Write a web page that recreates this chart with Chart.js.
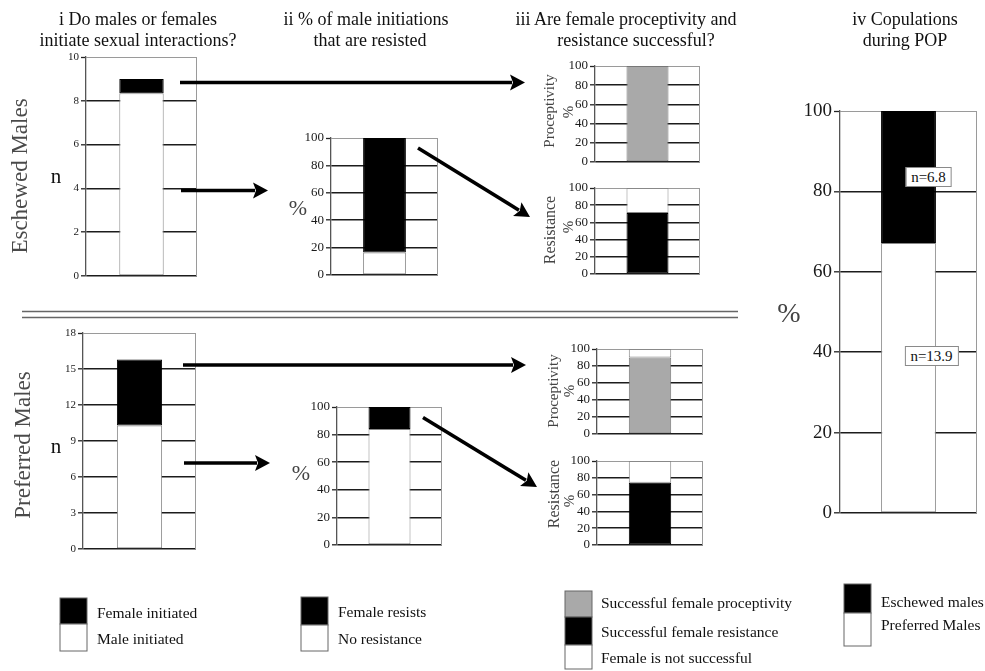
<!DOCTYPE html>
<html>
<head>
<meta charset="utf-8">
<script src="https://cdn.jsdelivr.net/npm/chart.js@4.4.1/dist/chart.umd.min.js"></script>
<style>
  html, body { margin: 0; padding: 0; background: #fff; }
  #fig { position: relative; width: 985px; height: 671px; overflow: hidden;
         font-family: "Liberation Serif", "Times New Roman", serif; }
  #fig canvas { position: absolute; }
  #overlay { position: absolute; left: 0; top: 0; }
  .nlab { position: absolute; background: #fff; border: 1px solid #8a8a8a; color: #111;
          font-size: 15px; line-height: 18px; padding: 0 5px; white-space: nowrap;
          transform: translate(-50%, -50%); }
</style>
</head>
<body>
<div id="fig">
  <canvas id="pI_esc"></canvas>
  <canvas id="pII_esc"></canvas>
  <canvas id="pIIIa_esc"></canvas>
  <canvas id="pIIIb_esc"></canvas>
  <canvas id="pI_pref"></canvas>
  <canvas id="pII_pref"></canvas>
  <canvas id="pIIIa_pref"></canvas>
  <canvas id="pIIIb_pref"></canvas>
  <canvas id="pIV"></canvas>
  <svg id="overlay" width="985" height="671" xmlns="http://www.w3.org/2000/svg"></svg>
</div>
<script>
// ---- data: index 0 = eschewed males, index 1 = preferred males ----
const groups = ['Eschewed Males', 'Preferred Males'];

// i: number of sexual interactions initiated by each sex
const maleInitiated   = [8.35, 10.3];
const femaleInitiated = [0.65, 5.5];

// ii: % of male initiations resisted
const noResistance  = [16.5, 84];
const femaleResists = [83.5, 16];

// iii: % of proceptive / resistant attempts that succeed
const proceptivitySuccess = [100, 90];
const resistanceSuccess   = [71, 74];

// iv: copulations during POP (mean n)
const copulationsN = [6.8, 13.9];

// tick labels
const nTicksEschewed  = [0, 2, 4, 6, 8, 10];
const nTicksPreferred = [0, 3, 6, 9, 12, 15, 18];
const pctTicks        = [0, 20, 40, 60, 80, 100];

// ---- drawing ----
const SERIF = '"Liberation Serif", "Times New Roman", serif';
const BLACK = '#000000', WHITE = '#ffffff', GREY = '#a9a9a9';

// thin grey frame on the right edge of each plot box
const frame = {
  id: 'frame',
  beforeDatasetsDraw(chart) {
    const a = chart.chartArea, c = chart.ctx;
    c.save();
    c.strokeStyle = '#9a9a9a';
    c.lineWidth = 1;
    c.beginPath();
    c.moveTo(Math.round(a.right) - 0.5, a.top);
    c.lineTo(Math.round(a.right) - 0.5, a.bottom);
    c.stroke();
    c.restore();
  }
};

function makePanel(id, box, opt) {
  const padT = 14, padB = 14, padR = 3;
  const cv = document.getElementById(id);
  cv.width = opt.axisW + (box.r - box.l) + padR;
  cv.height = padT + (box.b - box.t) + padB;
  cv.style.left = (box.l - opt.axisW) + 'px';
  cv.style.top = (box.t - padT) + 'px';
  const top = opt.ticks[opt.ticks.length - 1];
  return new Chart(cv, {
    type: 'bar',
    data: {
      labels: [''],
      datasets: opt.datasets.map(d => ({
        data: [d.value > 0 ? d.value : null],
        backgroundColor: d.color,
        borderColor: d.border,
        borderWidth: 1,
        borderSkipped: false,
        barPercentage: 0.4,
        categoryPercentage: 1
      }))
    },
    options: {
      responsive: false,
      animation: false,
      events: [],
      layout: { padding: { left: 0, top: padT, right: padR, bottom: padB } },
      plugins: { legend: { display: false }, tooltip: { enabled: false } },
      scales: {
        x: { display: false, stacked: true },
        y: {
          stacked: true, min: 0, max: top,
          afterBuildTicks: s => { s.ticks = opt.ticks.map(v => ({ value: v })); },
          afterFit: s => { s.width = opt.axisW; },
          ticks: { font: { family: SERIF, size: opt.tickSize }, color: '#1a1a1a',
                   padding: 2, autoSkip: false },
          grid: {
            color: c => (c.tick && c.tick.value === top) ? '#9a9a9a' : '#1c1c1c',
            lineWidth: c => (c.tick && c.tick.value === top) ? 1 : 1.6,
            tickLength: opt.tickLen || 5,
            tickColor: '#222',
            tickWidth: 1.3
          },
          border: { color: '#555', width: 1.3 }
        }
      }
    },
    plugins: [frame]
  });
}

const small = { axisW: 24, tickSize: 11 };
const mid = { axisW: 28, tickSize: 13 };

// Panel i
makePanel('pI_esc', { l: 86, t: 57, r: 197, b: 276 }, Object.assign({}, small, {
  ticks: nTicksEschewed,
  datasets: [
    { value: maleInitiated[0], color: WHITE, border: '#888' },
    { value: femaleInitiated[0], color: BLACK, border: BLACK }
  ]
}));
makePanel('pI_pref', { l: 83, t: 333, r: 196, b: 549 }, Object.assign({}, small, {
  ticks: nTicksPreferred,
  datasets: [
    { value: maleInitiated[1], color: WHITE, border: '#888' },
    { value: femaleInitiated[1], color: BLACK, border: BLACK }
  ]
}));

// Panel ii
makePanel('pII_esc', { l: 331, t: 138, r: 438, b: 275 }, Object.assign({}, mid, {
  ticks: pctTicks,
  datasets: [
    { value: noResistance[0], color: WHITE, border: '#888' },
    { value: femaleResists[0], color: BLACK, border: BLACK }
  ]
}));
makePanel('pII_pref', { l: 337, t: 407, r: 442, b: 545 }, Object.assign({}, mid, {
  ticks: pctTicks,
  datasets: [
    { value: noResistance[1], color: WHITE, border: '#888' },
    { value: femaleResists[1], color: BLACK, border: BLACK }
  ]
}));

// Panel iii
function successPanel(id, box, value, fill) {
  return makePanel(id, box, Object.assign({}, mid, {
    ticks: pctTicks,
    datasets: [
      { value: value, color: fill, border: fill === BLACK ? BLACK : '#777' },
      { value: 100 - value, color: WHITE, border: '#888' }
    ]
  }));
}
successPanel('pIIIa_esc',  { l: 595, t: 66,  r: 700, b: 162 }, proceptivitySuccess[0], GREY);
successPanel('pIIIb_esc',  { l: 595, t: 188, r: 700, b: 274 }, resistanceSuccess[0], BLACK);
successPanel('pIIIa_pref', { l: 597, t: 349, r: 703, b: 434 }, proceptivitySuccess[1], GREY);
successPanel('pIIIb_pref', { l: 597, t: 461, r: 703, b: 545 }, resistanceSuccess[1], BLACK);

// Panel iv: share of copulations, from the mean counts
const nTotal = copulationsN[0] + copulationsN[1];
const pctEschewed = copulationsN[0] / nTotal * 100;
const pctPreferred = copulationsN[1] / nTotal * 100;
const ivBox = { l: 840, t: 111, r: 977, b: 513 };
const ivChart = makePanel('pIV', ivBox, {
  axisW: 46, tickSize: 19, tickLen: 6,
  ticks: pctTicks,
  datasets: [
    { value: pctPreferred, color: WHITE, border: '#888' },
    { value: pctEschewed, color: BLACK, border: BLACK }
  ]
});

// n labels placed on the bars of panel iv
(function () {
  const fig = document.getElementById('fig');
  const cv = document.getElementById('pIV');
  const ox = parseFloat(cv.style.left), oy = parseFloat(cv.style.top);
  const esc = ivChart.getDatasetMeta(1).data[0];
  const pref = ivChart.getDatasetMeta(0).data[0];
  const put = (txt, x, y) => {
    const d = document.createElement('div');
    d.className = 'nlab';
    d.textContent = txt;
    d.style.left = (ox + x) + 'px';
    d.style.top = (oy + y) + 'px';
    fig.appendChild(d);
  };
  put('n=' + copulationsN[0], esc.x + 20, (esc.y + esc.base) / 2);
  put('n=' + copulationsN[1], pref.x + 23, pref.y + 0.42 * (pref.base - pref.y));
})();

// ---- annotations: titles, labels, arrows, legends ----
const svg = document.getElementById('overlay');
const NS = 'http://www.w3.org/2000/svg';
function el(tag, attrs, text) {
  const e = document.createElementNS(NS, tag);
  for (const k in attrs) e.setAttribute(k, attrs[k]);
  if (text !== undefined) e.textContent = text;
  svg.appendChild(e);
  return e;
}
function text(x, y, s, size, opts) {
  opts = opts || {};
  const a = {
    x: x, y: y, 'font-family': SERIF, 'font-size': size,
    fill: opts.fill || '#111', 'text-anchor': opts.anchor || 'middle',
    'dominant-baseline': opts.baseline || 'alphabetic'
  };
  if (opts.rotate) a.transform = 'rotate(-90 ' + x + ' ' + y + ')';
  if (opts.weight) a['font-weight'] = opts.weight;
  a['xml:space'] = 'preserve';
  return el('text', a, s);
}
function arrow(x1, y1, x2, y2) {
  const len = 15, half = 8;
  const dx = x2 - x1, dy = y2 - y1, L = Math.hypot(dx, dy);
  const ux = dx / L, uy = dy / L;
  const bx = x2 - ux * len, by = y2 - uy * len;
  el('line', { x1: x1, y1: y1, x2: bx + ux * 2, y2: by + uy * 2, stroke: '#000', 'stroke-width': 3.6 });
  el('polygon', {
    points: [x2 + ',' + y2,
             (bx - uy * half) + ',' + (by + ux * half),
             (bx + ux * 3) + ',' + (by + uy * 3),
             (bx + uy * half) + ',' + (by - ux * half)].join(' '),
    fill: '#000'
  });
}

// column titles
text(138, 25, 'i  Do males or females', 18);
text(138, 46, 'initiate sexual interactions?', 18);
text(366, 25, 'ii  % of male initiations', 18);
text(370, 46, 'that are resisted', 18);
text(626, 25, 'iii  Are female proceptivity and', 18);
text(636, 46, 'resistance successful?', 18);
text(905, 25, 'iv  Copulations', 18);
text(905, 46, 'during POP', 18);

// row labels
text(19, 176, groups[0], 23, { rotate: true, baseline: 'central', fill: '#4a4a4a' });
text(22, 445, groups[1], 23, { rotate: true, baseline: 'central', fill: '#4a4a4a' });

// axis titles
text(56, 176, 'n', 21, { baseline: 'central' });
text(56, 446, 'n', 21, { baseline: 'central' });
text(298, 207, '%', 22, { baseline: 'central', fill: '#444' });
text(301, 472, '%', 22, { baseline: 'central', fill: '#444' });
text(789, 312, '%', 28, { baseline: 'central', fill: '#444' });
text(549, 111, 'Proceptivity', 15, { rotate: true, baseline: 'central', fill: '#444' });
text(568, 112, '%', 15, { rotate: true, baseline: 'central', fill: '#444' });
text(549, 230, 'Resistance', 16, { rotate: true, baseline: 'central', fill: '#444' });
text(568, 227, '%', 15, { rotate: true, baseline: 'central', fill: '#444' });
text(553, 391, 'Proceptivity', 15, { rotate: true, baseline: 'central', fill: '#444' });
text(569, 391, '%', 15, { rotate: true, baseline: 'central', fill: '#444' });
text(553, 494, 'Resistance', 16, { rotate: true, baseline: 'central', fill: '#444' });
text(569, 501, '%', 15, { rotate: true, baseline: 'central', fill: '#444' });

// double rule between the two rows
el('line', { x1: 22, y1: 311.5, x2: 738, y2: 311.5, stroke: '#666', 'stroke-width': 1.4 });
el('line', { x1: 22, y1: 317.5, x2: 738, y2: 317.5, stroke: '#666', 'stroke-width': 1.4 });

// flow arrows
arrow(180, 82.5, 525, 82.5);
arrow(181, 190.5, 268, 190.5);
arrow(418, 148, 530, 217);
arrow(183, 365, 526, 365);
arrow(184, 463, 270, 463);
arrow(423, 417.5, 537, 487);

// legends
function swatchStack(x, y, w, parts) {
  let cy = y;
  parts.forEach(p => {
    el('rect', { x: x, y: cy, width: w, height: p.h, fill: p.fill, stroke: '#666', 'stroke-width': 1 });
    cy += p.h;
  });
}
swatchStack(60, 598, 27, [{ h: 26, fill: BLACK }, { h: 27, fill: WHITE }]);
text(97, 618, 'Female initiated', 15.5, { anchor: 'start' });
text(97, 644, 'Male initiated', 15.5, { anchor: 'start' });

swatchStack(301, 597, 27, [{ h: 28, fill: BLACK }, { h: 26, fill: WHITE }]);
text(338, 617, 'Female resists', 15.5, { anchor: 'start' });
text(338, 644, 'No resistance', 15.5, { anchor: 'start' });

swatchStack(565, 591, 27, [{ h: 26, fill: GREY }, { h: 28, fill: BLACK }, { h: 24, fill: WHITE }]);
text(601, 608, 'Successful female proceptivity', 15.5, { anchor: 'start' });
text(601, 637, 'Successful female resistance', 15.5, { anchor: 'start' });
text(601, 663, 'Female is not successful', 15.5, { anchor: 'start' });

swatchStack(844, 584, 27, [{ h: 29, fill: BLACK }, { h: 33, fill: WHITE }]);
text(881, 607, 'Eschewed males', 15.5, { anchor: 'start' });
text(881, 630, 'Preferred Males', 15.5, { anchor: 'start' });
</script>
</body>
</html>
